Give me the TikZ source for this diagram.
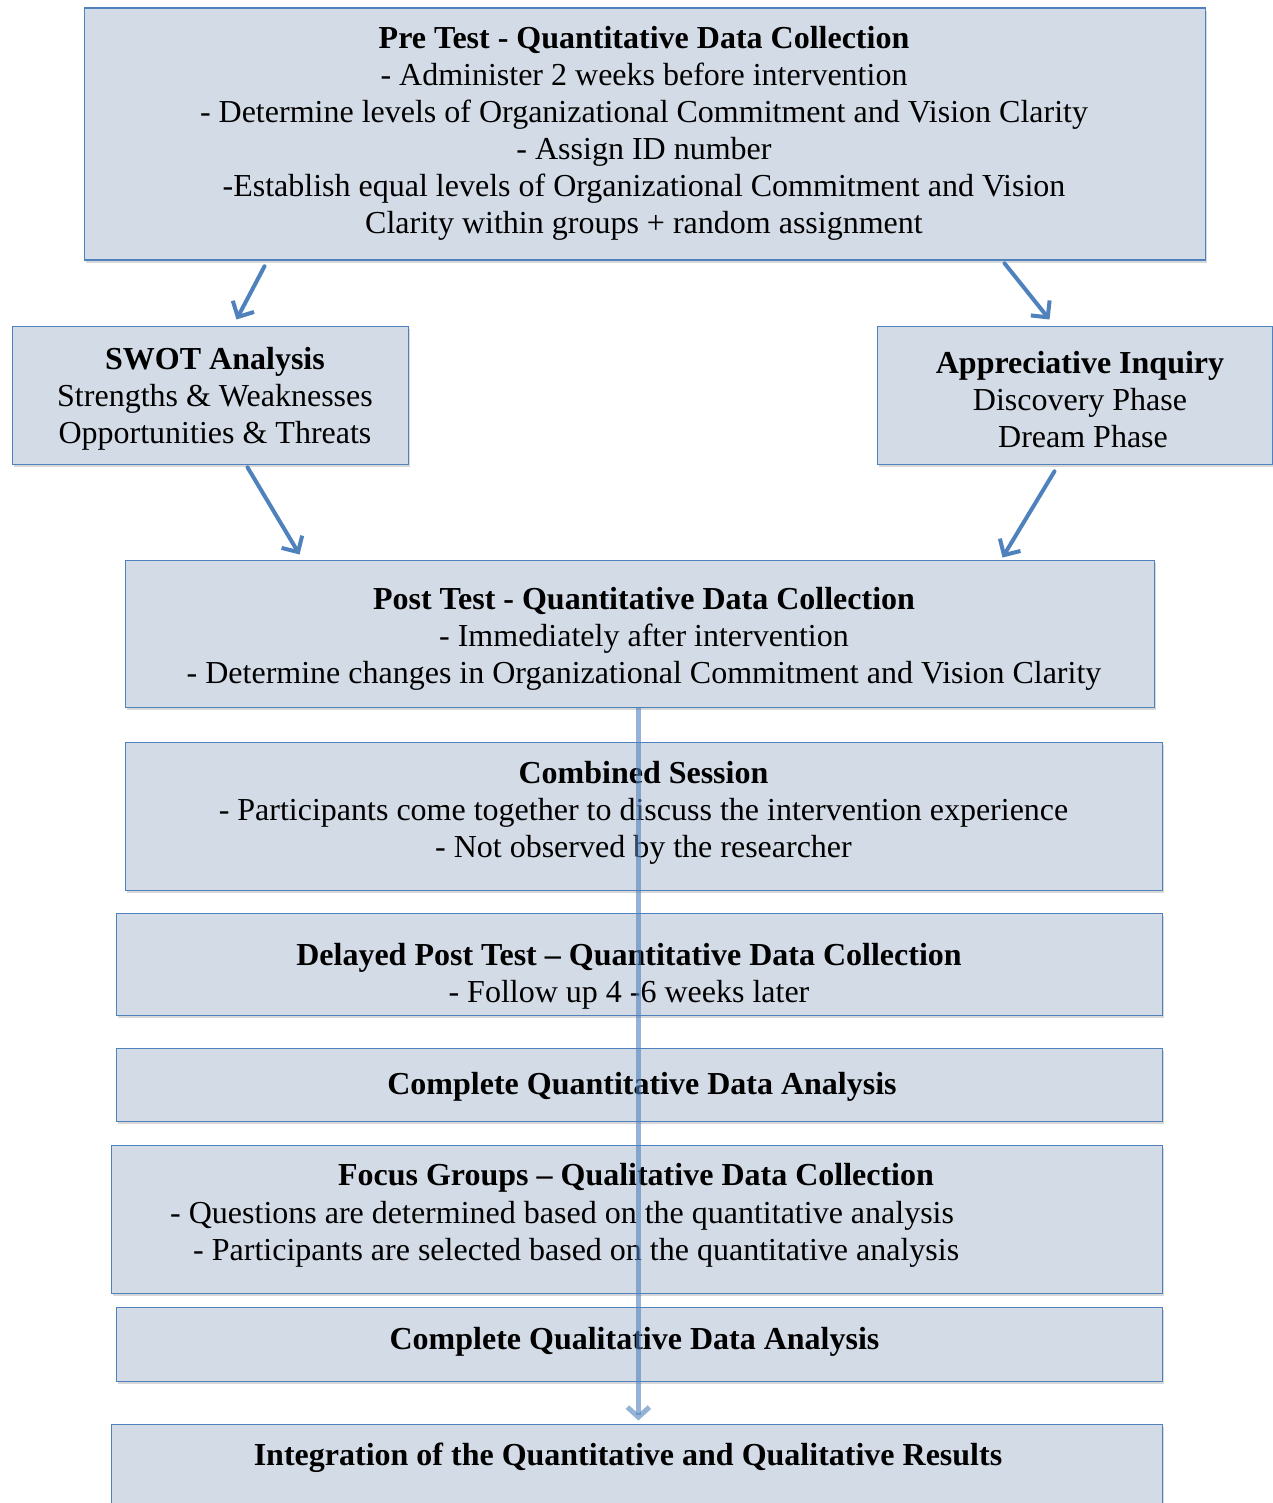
\documentclass[tikz,border=0pt]{standalone}
\usepackage{fontspec}
\setmainfont{Liberation Serif}
\usetikzlibrary{arrows.meta,shadows}
\definecolor{boxfill}{RGB}{211,219,230}
\definecolor{boxline}{RGB}{79,129,189}

\begin{document}
\begin{tikzpicture}[x=1pt,y=-1pt,
    box/.style={draw=boxline, fill=boxfill, line width=1.8pt, inner sep=0pt, anchor=north west,
      drop shadow={shadow xshift=2pt, shadow yshift=-3pt, opacity=0.25, fill=black!60}},
    txt/.style={align=center, inner sep=0pt, yshift=-4pt, font=\fontsize{32}{37}\selectfont},
    flow/.style={draw=boxline, line width=4pt, line cap=round,
      -{Straight Barb[length=12pt,width=24pt,line width=4pt]}},
    vflow/.style={draw=boxline, draw opacity=0.6, line width=5pt,
      -{Straight Barb[length=10pt,width=22pt,line width=5pt]}}]
        %画布
        \clip (0,0) rectangle (1273,1503);
        \fill[white] (0,0) rectangle (1273,1503);
        %框
        \node[box, minimum width=1121pt, minimum height=252pt] (pre) at (83.5,7.5) {};
        \node[box, minimum width=396pt, minimum height=138pt] (swot) at (11.5,325.5) {};
        \node[box, minimum width=395pt, minimum height=138pt] (ai) at (876.5,325.5) {};
        \node[box, minimum width=1029pt, minimum height=147pt] (post) at (124.5,559.5) {};
        \node[box, minimum width=1037pt, minimum height=148pt] (comb) at (124.5,741.5) {};
        \node[box, minimum width=1046pt, minimum height=102pt] (delay) at (115.5,912.5) {};
        \node[box, minimum width=1046pt, minimum height=73pt] (quan) at (115.5,1047.5) {};
        \node[box, minimum width=1051pt, minimum height=148pt] (focus) at (110.5,1144.5) {};
        \node[box, minimum width=1046pt, minimum height=74pt] (qual) at (115.5,1306.5) {};
        \node[box, minimum width=1051pt, minimum height=120pt] (intg) at (110.5,1423.5) {};
        %框里的字
        \node[txt] (pretxt) at (644,129)
          {\textbf{Pre Test - Quantitative Data Collection}\\
           - Administer 2 weeks before intervention\\
           - Determine levels of Organizational Commitment and Vision Clarity\\
           - Assign ID number\\
           -Establish equal levels of Organizational Commitment and Vision\\
           Clarity within groups + random assignment};
        \node[txt] (swottxt) at (215,395)
          {\textbf{SWOT Analysis}\\ Strengths \& Weaknesses\\ Opportunities \& Threats};
        \node[txt] (aitxt) at (1080,395.5)
          {\textbf{Appreciative Inquiry}\\ Discovery Phase\\ \hspace*{6pt}Dream Phase};
        \node[txt] (posttxt) at (644,635)
          {\textbf{Post Test - Quantitative Data Collection}\\
           - Immediately after intervention\\
           - Determine changes in Organizational Commitment and Vision Clarity};
        \node[txt] (combtxt) at (643.5,808.5)
          {\textbf{Combined Session}\\
           - Participants come together to discuss the intervention experience\\
           - Not observed by the researcher};
        \node[txt] (delaytxt) at (629,972.5)
          {\textbf{Delayed Post Test -- Quantitative Data Collection}\\
           - Follow up 4 -6 weeks later};
        \node[txt] (quantxt) at (642,1083) {\textbf{Complete Quantitative Data Analysis}};
        \node[txt] (focustxt) at (636,1174) {\textbf{Focus Groups -- Qualitative Data Collection}};
        \node[txt, align=left, anchor=west] (focuslist) at (170,1230)
          {- Questions are determined based on the quantitative analysis\\
           \hspace*{23pt}- Participants are selected based on the quantitative analysis};
        \node[txt] (qualtxt) at (634.5,1338) {\textbf{Complete Qualitative Data Analysis}};
        \node[txt] (intgtxt) at (628,1454) {\textbf{Integration of the Quantitative and Qualitative Results}};
        %箭头
        \draw[flow] ([xshift=181pt,yshift=-5pt]pre.south west) -- ([xshift=225pt,yshift=6pt]swot.north west);
        \draw[flow] ([xshift=921pt,yshift=-2pt]pre.south west) -- ([xshift=173pt,yshift=6pt]ai.north west);
        \draw[flow] ([xshift=236pt,yshift=-2pt]swot.south west) -- ([xshift=175pt,yshift=5pt]post.north west);
        \draw[flow] ([xshift=178pt,yshift=-6pt]ai.south west) -- ([xshift=878pt,yshift=2pt]post.north west);
        \draw[vflow] ([xshift=-1.5pt]post.south) -- ([xshift=-1.5pt,yshift=3pt]intg.north -| post.south);
\end{tikzpicture}
\end{document}
